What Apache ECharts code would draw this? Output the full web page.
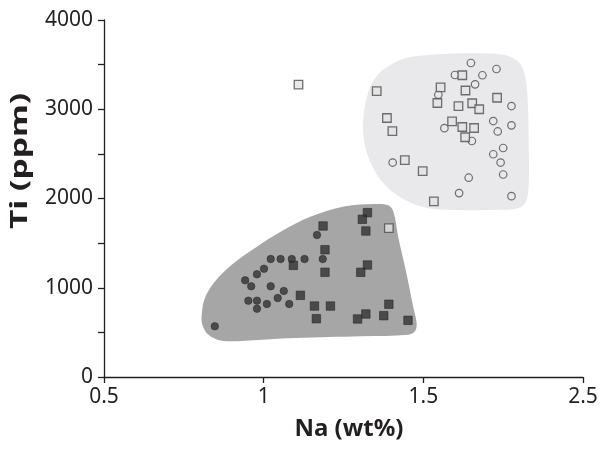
<!DOCTYPE html>
<html>
<head>
<meta charset="utf-8">
<script src="https://cdn.jsdelivr.net/npm/echarts@6/dist/echarts.min.js"></script>
<style>
  html, body { margin: 0; padding: 0; background: #fff; }
  #chart { width: 608px; height: 451px; }
</style>
</head>
<body>
<div id="chart"></div>
<script>
// Na (wt%) vs Ti (ppm), two populations with shaded compositional fields
const xTicks = [0.5, 1, 1.5, 2];
const xTickLabels = ['0.5', '1', '1.5', '2.5'];
const yTickLabels = [0, 1000, 2000, 3000, 4000];

const darkCircles = [
  [1.022, 1322], [1.053, 1322], [1.088, 1322], [1.128, 1322], [1.001, 1213],
  [0.979, 1151], [0.942, 1083], [0.961, 1016], [1.022, 1016], [1.063, 964],
  [1.044, 885], [0.952, 855], [0.979, 855], [0.979, 765], [1.010, 818],
  [1.080, 818], [0.847, 568], [1.167, 1591], [1.185, 1322]
];
const darkSquares = [
  [1.093, 1251], [1.115, 915], [1.186, 1692], [1.325, 1841], [1.309, 1767],
  [1.320, 1636], [1.192, 1426], [1.192, 1173], [1.325, 1255], [1.304, 1173],
  [1.159, 795], [1.209, 795], [1.165, 653], [1.320, 706], [1.294, 650],
  [1.392, 815], [1.376, 687], [1.452, 635]
];
const lightSquares = [
  [1.109, 3277], [1.392, 1669], [1.354, 3204], [1.386, 2902], [1.403, 2756],
  [1.442, 2431], [1.498, 2306], [1.533, 1968], [1.554, 3244], [1.544, 3070],
  [1.622, 3381], [1.632, 3210], [1.731, 3129], [1.610, 3034], [1.653, 3067],
  [1.675, 3000], [1.590, 2864], [1.622, 2801], [1.659, 2790], [1.631, 2686]
];
const lightCircles = [
  [1.649, 3518], [1.729, 3451], [1.599, 3384], [1.685, 3381], [1.662, 3279],
  [1.547, 3163], [1.776, 3036], [1.719, 2868], [1.776, 2820], [1.733, 2751],
  [1.566, 2788], [1.652, 2644], [1.750, 2566], [1.719, 2496], [1.742, 2403],
  [1.404, 2403], [1.750, 2269], [1.642, 2233], [1.612, 2061], [1.776, 2026]
];

// outlines of the two shaded fields, in axis units
const lowTiField = [
  [0.806, 698], [0.816, 885], [0.848, 1072], [0.900, 1258], [0.973, 1445],
  [1.056, 1632], [1.150, 1800], [1.255, 1912], [1.349, 1938], [1.390, 1924],
  [1.406, 1856], [1.422, 1557], [1.448, 1146], [1.469, 773], [1.479, 605],
  [1.474, 512], [1.453, 474], [1.307, 456], [1.098, 437], [0.942, 407],
  [0.869, 407], [0.827, 474], [0.808, 586]
];
const highTiField = [
  [1.312, 2898], [1.328, 3197], [1.349, 3347], [1.380, 3459], [1.443, 3571],
  [1.547, 3616], [1.651, 3627], [1.756, 3608], [1.797, 3533], [1.815, 3421],
  [1.826, 3160], [1.830, 2599], [1.830, 2151], [1.821, 1964], [1.797, 1890],
  [1.704, 1871], [1.599, 1871], [1.516, 1890], [1.443, 1983], [1.380, 2151],
  [1.338, 2375], [1.315, 2636]
];

const FONT = 'Noto Sans';
const INK = '#231f20';

function fieldSeries(outline, fill) {
  return {
    type: 'custom',
    silent: true,
    z: 1,
    data: [outline[0]],
    renderItem: function (params, api) {
      const pts = outline.map(p => api.coord(p));
      return {
        type: 'polygon',
        shape: { points: pts, smooth: 0.35 },
        style: { fill: fill, stroke: null }
      };
    }
  };
}

const chart = echarts.init(document.getElementById('chart'), null, { renderer: 'canvas' });
chart.setOption({
  animation: false,
  backgroundColor: '#ffffff',
  grid: { left: 104, right: 25, top: 20, bottom: 74 },
  xAxis: {
    type: 'value',
    min: xTicks[0],
    max: xTicks[xTicks.length - 1],
    interval: 0.5,
    splitLine: { show: false },
    axisLine: { lineStyle: { color: INK, width: 1.3 } },
    axisTick: { length: 6, lineStyle: { color: INK, width: 1.3 } },
    axisLabel: {
      margin: 10,
      color: INK,
      fontFamily: FONT,
      fontSize: 21,
      formatter: v => {
        const i = xTicks.findIndex(t => Math.abs(t - v) < 1e-9);
        return i >= 0 ? xTickLabels[i] : '';
      }
    },
    name: 'Na (wt%)',
    nameLocation: 'middle',
    nameGap: 40,
    nameTextStyle: { color: INK, fontFamily: FONT, fontSize: 24, fontWeight: 'bold', padding: [0, 0, 0, 11] }
  },
  yAxis: {
    type: 'value',
    min: 0,
    max: 4000,
    interval: 500,
    splitLine: { show: false },
    axisLine: { lineStyle: { color: INK, width: 1.3 } },
    axisTick: { length: 6, lineStyle: { color: INK, width: 1.3 } },
    axisLabel: {
      margin: 11,
      color: INK,
      fontFamily: FONT,
      fontSize: 21,
      formatter: v => (yTickLabels.indexOf(v) >= 0 ? String(v) : '')
    }
  },
  graphic: [{
    type: 'text',
    x: 20,
    y: 161,
    rotation: Math.PI / 2,
    scaleX: 1.4,
    style: {
      text: 'Ti (ppm)',
      fill: INK,
      font: 'bold 24px "Noto Sans"',
      align: 'center',
      verticalAlign: 'middle'
    }
  }],
  series: [
    fieldSeries(lowTiField, '#a6a6a6'),
    fieldSeries(highTiField, '#e9e9eb'),
    {
      type: 'scatter', z: 3, data: lightCircles, symbol: 'circle', symbolSize: 7.5,
      itemStyle: { color: 'rgba(0,0,0,0)', borderColor: '#4d4d4d', borderWidth: 1.2 }
    },
    {
      type: 'scatter', z: 4, data: lightSquares, symbol: 'rect', symbolSize: 8.5,
      itemStyle: { color: '#e2e2e2', borderColor: '#4d4d4d', borderWidth: 1.3 }
    },
    {
      type: 'scatter', z: 5, data: darkCircles, symbol: 'circle', symbolSize: 7.5,
      itemStyle: { color: '#333333', borderColor: '#222222', borderWidth: 0.6 }
    },
    {
      type: 'scatter', z: 6, data: darkSquares, symbol: 'rect', symbolSize: 8.5,
      itemStyle: { color: '#333333', borderColor: '#1a1a1a', borderWidth: 0.6 }
    }
  ]
});
</script>
</body>
</html>
